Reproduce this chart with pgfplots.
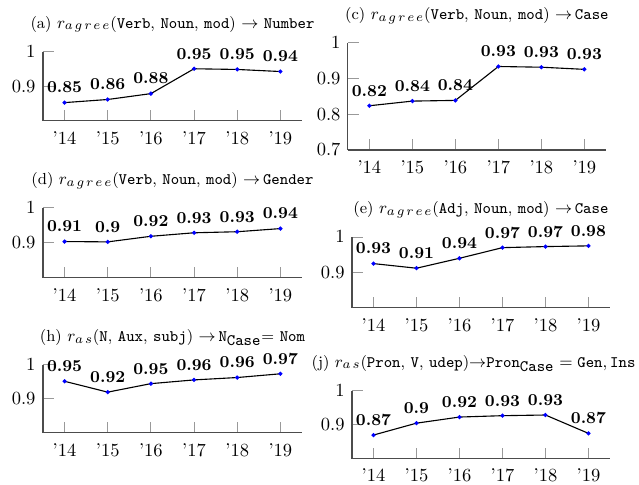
\documentclass[border=0pt]{standalone}
\usepackage{pgfplots}
\pgfplotsset{compat=1.18}
\newcommand{\agree}{\hbox{\fontsize{7.4}{8}\selectfont$a\hskip0.14em g\hskip0.14em r\hskip0.14em e\hskip0.14em e$}}
\newcommand{\as}{\hbox{\fontsize{7.4}{8}\selectfont$a\hskip0.14em s$}}
\pgfplotsset{
 myax/.style={
  scale only axis, width=139.9pt,
  axis x line*=bottom, axis y line*=left,
  axis line style={-, black!70, line width=0.6pt},
  tick align=inside, major tick length=6pt,
  xtick pos=bottom, ytick pos=left,
  tick style={gray!80, line width=0.5pt},
  xmin=-0.5, xmax=5.5, xtick={0,...,5},
  xticklabels={\textquoteright14,\textquoteright15,\textquoteright16,\textquoteright17,\textquoteright18,\textquoteright19},
  ymax=1, ytick={0.9,1},
  clip=false,
  anchor=south west,
  every axis title/.style={at={(0.5,1)}, anchor=center, yshift=14.9pt, font=\fontsize{8.65}{10}\selectfont},
  nodes near coords, point meta=explicit symbolic,
  every node near coord/.append style={anchor=center, yshift=8.1pt, font=\small\bfseries, text=black},
  xticklabel style={yshift=-2pt}, yticklabel style={xshift=-0.5pt},
 },
 myplot/.style={black, line width=0.6pt, mark=*, mark size=0.8pt, mark options={blue, draw=blue}},
}
\begin{document}
\begin{tikzpicture}
\useasboundingbox (0,0) rectangle (345.1pt,-261.4pt);
% (a)
\begin{axis}[myax, at={(23.2pt,-65.3pt)}, height=37.3pt, ymin=0.8,
 title={(a) $r_{\agree}$(\texttt{Verb}, \texttt{Noun}, \texttt{mod}) $\rightarrow$ \texttt{Number}}]
\addplot[myplot] coordinates {(0,0.853) [0.85] (1,0.862) [0.86] (2,0.879) [0.88] (3,0.951) [0.95] (4,0.949) [0.95] (5,0.943) [0.94]};
\end{axis}
% (c)
\begin{axis}[myax, at={(187.9pt,-81.0pt)}, width=139.3pt, height=57.8pt, ymin=0.7, ytick={0.7,0.8,0.9,1},
 title={(c) $r_{\agree}$(\texttt{Verb}, \texttt{Noun}, \texttt{mod}) $\rightarrow$\,\texttt{Case}}]
\addplot[myplot] coordinates {(0,0.824) [0.82] (1,0.837) [0.84] (2,0.839) [0.84] (3,0.934) [0.93] (4,0.932) [0.93] (5,0.926) [0.93]};
\end{axis}
% (d)
\begin{axis}[myax, at={(23.2pt,-150.1pt)}, height=37.8pt, ymin=0.8,
 title={(d) $r_{\agree}$(\texttt{Verb}, \texttt{Noun}, \texttt{mod}) $\rightarrow$\,\texttt{Gender}}]
\addplot[myplot] coordinates {(0,0.904) [0.91] (1,0.903) [0.9] (2,0.919) [0.92] (3,0.929) [0.93] (4,0.932) [0.93] (5,0.941) [0.94]};
\end{axis}
% (e)
\begin{axis}[myax, at={(190.1pt,-166.3pt)}, width=139.3pt, height=38.3pt, ymin=0.8,
 title={(e) $r_{\agree}$(\texttt{Adj}, \texttt{Noun}, \texttt{mod}) $\rightarrow$\,\texttt{Case}}]
\addplot[myplot] coordinates {(0,0.925) [0.93] (1,0.912) [0.91] (2,0.940) [0.94] (3,0.970) [0.97] (4,0.973) [0.97] (5,0.975) [0.98]};
\end{axis}
% (h)
\begin{axis}[myax, at={(23.2pt,-233.8pt)}, height=36.7pt, ymin=0.8,
 title={(h) $r_{\as}$(\texttt{N}, \texttt{Aux}, \texttt{subj}) $\rightarrow$\,$\texttt{N}_{\texttt{Case}}$= \texttt{Nom}}]
\addplot[myplot] coordinates {(0,0.952) [0.95] (1,0.920) [0.92] (2,0.945) [0.95] (3,0.956) [0.96] (4,0.963) [0.96] (5,0.974) [0.97]};
\end{axis}
% (j)
\begin{axis}[myax, at={(190.1pt,-247.8pt)}, width=139.3pt, height=36.7pt, ymin=0.8,
 title style={xshift=-4pt},
 title={(j) $r_{\as}$(\texttt{Pron}, \texttt{V}, \texttt{udep})$\rightarrow$$\texttt{Pron}_{\texttt{Case}} = \texttt{Gen}, \texttt{Ins}$}]
\addplot[myplot] coordinates {(0,0.870) [0.87] (1,0.905) [0.9] (2,0.923) [0.92] (3,0.927) [0.93] (4,0.929) [0.93] (5,0.875) [0.87]};
\end{axis}
\end{tikzpicture}
\end{document}
